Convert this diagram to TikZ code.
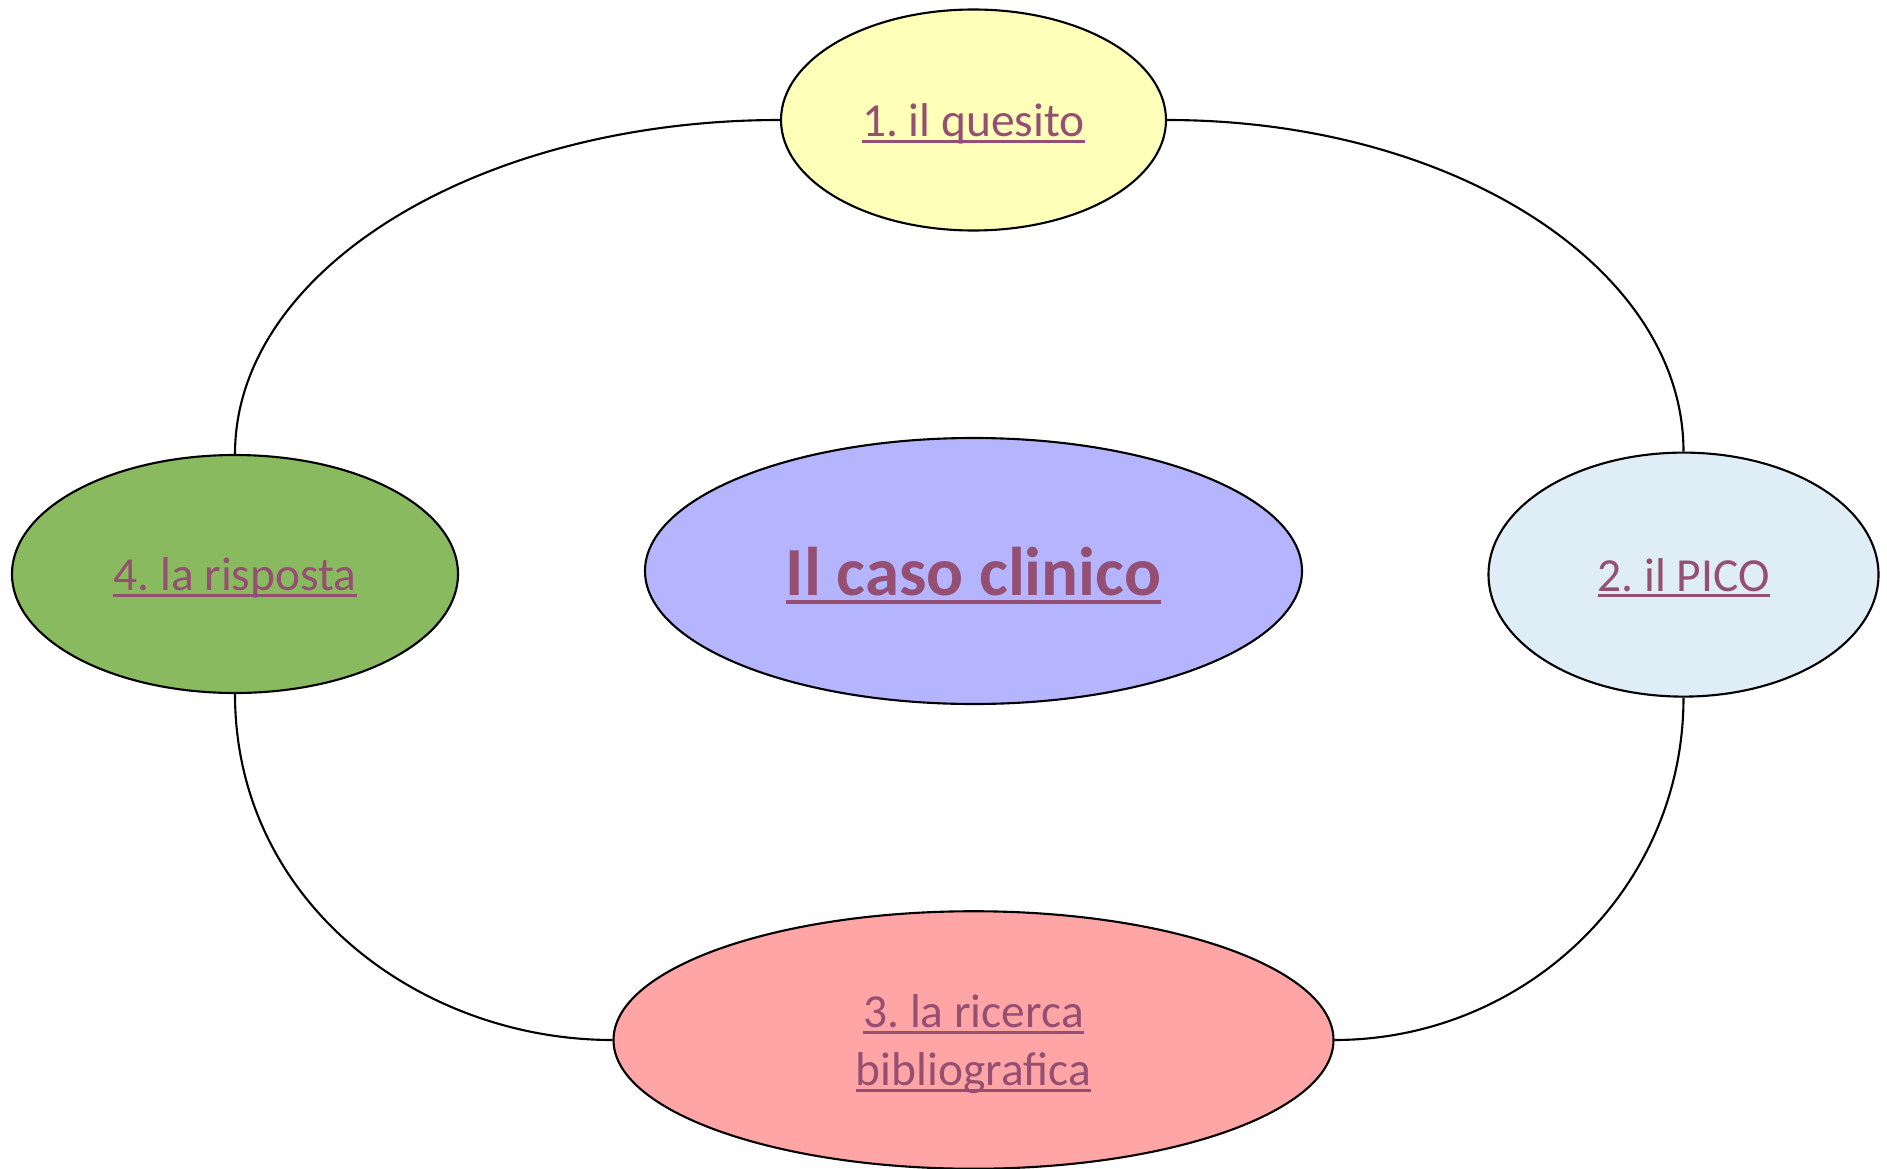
\documentclass[tikz,border=0pt]{standalone}
\usepackage{fontspec}
\setmainfont{Carlito}
\usepackage{xcolor}
\usepackage{tikz}
\usetikzlibrary{positioning,shapes.geometric}
\definecolor{linkpurple}{RGB}{149,79,114}
\definecolor{stepyellow}{RGB}{255,255,185}
\definecolor{stepblue}{RGB}{222,237,246}
\definecolor{steppink}{RGB}{255,165,165}
\definecolor{stepgreen}{RGB}{138,186,95}
\definecolor{caseblue}{RGB}{181,181,255}
\newcommand{\linkul}[1]{\setbox0\hbox{#1}\rlap{\rule[-0.13em]{\wd0}{0.065em}}\box0}
\frenchspacing

\begin{document}
\begin{tikzpicture}[
  phase/.style={ellipse, draw=black, line width=0.6pt, inner sep=0pt, align=center,
    text depth=0pt, text=linkpurple, font=\fontsize{13.5}{16.5}\selectfont},
  link/.style={draw=black, line width=0.6pt}
]
\useasboundingbox (0,0) rectangle (18.87,-11.69);
% centro
\node[phase, fill=caseblue, minimum width=6.57cm, minimum height=2.66cm,
  font=\fontsize{19.6}{23}\selectfont\bfseries] (caso) at (9.735,-5.71) {\linkul{Il caso clinico}};
% le quattro fasi
\node[phase, fill=stepyellow, minimum width=3.85cm, minimum height=2.21cm] (quesito) at (9.735,-1.20) {\linkul{1. il quesito}};
\node[phase, fill=stepblue, minimum width=3.90cm, minimum height=2.44cm] (pico) at (16.835,-5.746) {\linkul{2. il PICO}};
\node[phase, fill=steppink, minimum width=7.20cm, minimum height=2.575cm] (ricerca) at (9.735,-10.40) {\linkul{3. la ricerca}\\\linkul{bibliografica}};
\node[phase, fill=stepgreen, minimum width=4.46cm, minimum height=2.38cm] (risposta) at (2.35,-5.74) {\linkul{4. la risposta}};
% il ciclo
\draw[link] (quesito.east) .. controls +(2.86,0) and +(0,1.84) .. (pico.north);
\draw[link] (pico.south) .. controls +(0,-1.93) and +(1.89,0) .. (ricerca.east);
\draw[link] (ricerca.west) .. controls +(-1.92,0) and +(0,-2.09) .. (risposta.south);
\draw[link] (risposta.north) .. controls +(0,1.85) and +(-3.01,0) .. (quesito.west);
\end{tikzpicture}
\end{document}
